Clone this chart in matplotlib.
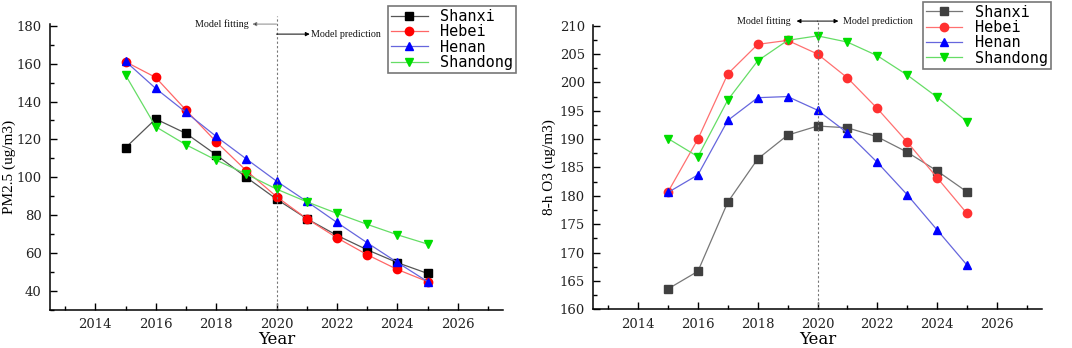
import matplotlib
matplotlib.use("Agg")
import matplotlib.pyplot as plt
from matplotlib.ticker import MultipleLocator

years = [2015, 2016, 2017, 2018, 2019, 2020, 2021, 2022, 2023, 2024, 2025]
provinces = ["Shanxi", "Hebei", "Henan", "Shandong"]

pm25_shanxi = [115.6, 130.8, 123.2, 111.9, 100.0, 88.5, 78.2, 69.4, 61.8, 55.0, 49.3]
pm25_hebei = [161.0, 152.7, 135.5, 118.8, 103.5, 89.8, 78.2, 68.1, 59.2, 51.4, 45.0]
pm25_henan = [161.2, 146.9, 134.3, 121.6, 109.7, 98.0, 87.3, 76.2, 65.5, 55.1, 45.0]
pm25_shandong = [154.0, 126.7, 117.2, 109.1, 101.7, 93.8, 87.1, 81.0, 75.2, 69.7, 64.8]

o3_shanxi = [163.6, 166.7, 178.9, 186.5, 190.7, 192.3, 192.0, 190.4, 187.7, 184.4, 180.7]
o3_hebei = [180.7, 190.0, 201.5, 206.7, 207.4, 205.0, 200.8, 195.4, 189.5, 183.2, 176.9]
o3_henan = [180.6, 183.7, 193.3, 197.3, 197.5, 195.1, 191.1, 185.9, 180.2, 174.0, 167.8]
o3_shandong = [190.1, 186.9, 196.9, 203.8, 207.4, 208.2, 207.1, 204.7, 201.3, 197.4, 193.1]

split_year = 2020

W, H = 1072, 348
fig = plt.figure(figsize=(W / 100, H / 100), dpi=100)

def px_axes(l, r, b, t):
    return fig.add_axes([l / W, 1 - b / H, (r - l) / W, (b - t) / H])

ax1 = px_axes(50, 503, 310, 23.8)
ax2 = px_axes(593.3, 1041.7, 309.3, 24.5)

markers = ["s", "o", "^", "v"]
mcolors_left = ["#000000", "#ff0000", "#0000ff", "#00dd00"]
lcolors_left = ["#555555", "#ff6666", "#6666dd", "#66dd66"]
mcolors_right = ["#404040", "#ff3030", "#0000ff", "#00dd00"]
lcolors_right = ["#777777", "#ff7070", "#6666dd", "#66dd66"]

def style_axes(ax, ylim, ymaj, ymin):
    ax.set_xlim(2012.5, 2027.5)
    ax.set_ylim(*ylim)
    ax.xaxis.set_major_locator(MultipleLocator(2))
    ax.xaxis.set_minor_locator(MultipleLocator(1))
    ax.yaxis.set_major_locator(MultipleLocator(ymaj))
    ax.yaxis.set_minor_locator(MultipleLocator(ymin))
    for s in ["top", "right"]:
        ax.spines[s].set_visible(False)
    for s in ["left", "bottom"]:
        ax.spines[s].set_linewidth(1.1)
    ax.tick_params(which="both", direction="in", width=1.0)
    ax.tick_params(which="major", length=5, labelsize=9.5, pad=6)
    ax.tick_params(which="minor", length=3)
    for lab in ax.get_xticklabels() + ax.get_yticklabels():
        lab.set_fontfamily("DejaVu Serif")
        lab.set_color("#222222")
    ax.set_xlabel("Year", fontsize=12, fontfamily="DejaVu Serif", labelpad=0)

def plot_series(ax, data, mcols, lcols):
    for name, vals, m, mc, lc in zip(provinces, data, markers, mcols, lcols):
        ax.plot(years, vals, color=lc, linewidth=0.9, marker=m, markersize=6,
                markerfacecolor=mc, markeredgecolor=mc, label=name, clip_on=False)

plot_series(ax1, [pm25_shanxi, pm25_hebei, pm25_henan, pm25_shandong], mcolors_left, lcolors_left)
plot_series(ax2, [o3_shanxi, o3_hebei, o3_henan, o3_shandong], mcolors_right, lcolors_right)

style_axes(ax1, (30, 181), 20, 10)
style_axes(ax2, (160, 210.2), 5, 2.5)
ax1.set_ylabel("PM2.5 (ug/m3)", fontsize=11, fontfamily="Liberation Serif")
ax2.set_ylabel("8-h O3 (ug/m3)", fontsize=11, fontfamily="Liberation Serif")
ax1.yaxis.set_label_coords(-0.074, 0.5)
ax2.yaxis.set_label_coords(-0.084, 0.5)

def legend(ax, anchor):
    lg = ax.legend(loc="upper right", bbox_to_anchor=anchor, bbox_transform=fig.transFigure,
                   prop={"family": "DejaVu Sans Mono", "size": 11}, fancybox=False,
                   frameon=True, edgecolor="#777777", framealpha=1, borderpad=0.2,
                   labelspacing=0.02, handlelength=2.4, handletextpad=0.8, borderaxespad=0)
    lg.get_frame().set_linewidth(1.2)

legend(ax1, (516 / W, 1 - 6 / H))
legend(ax2, (1050.7 / W, 1 - 1.7 / H))

ann_font = dict(fontsize=7.2, fontfamily="Liberation Serif", color="#111111")
arrow = dict(arrowstyle="-|>", color="black", lw=0.7, mutation_scale=6, shrinkA=0, shrinkB=0)

# left panel: divider and annotations
ax1.plot([split_year, split_year], [0, 1.027], transform=ax1.get_xaxis_transform(),
         color="#777777", lw=0.8, ls=(0, (2, 2)), clip_on=False)
ax1.annotate("", xy=(2019.2, 0.999), xytext=(split_year, 0.999),
             xycoords=("data", "axes fraction"), textcoords=("data", "axes fraction"),
             arrowprops=dict(arrowstyle="-|>", color="#888888", lw=0.7, mutation_scale=6,
                             shrinkA=0, shrinkB=0, fc="black"), annotation_clip=False)
ax1.text(2019.15, 0.999, "Model fitting ", transform=ax1.get_xaxis_transform(),
         ha="right", va="center", **ann_font)
ax1.annotate("", xy=(2021.1, 0.964), xytext=(split_year, 0.964),
             xycoords=("data", "axes fraction"), textcoords=("data", "axes fraction"),
             arrowprops=arrow, annotation_clip=False)
ax1.text(2021.15, 0.964, "Model prediction", transform=ax1.get_xaxis_transform(),
         ha="left", va="center", **ann_font)

# right panel
ax2.plot([split_year, split_year], [0, 1.01], transform=ax2.get_xaxis_transform(),
         color="#777777", lw=0.8, ls=(0, (2, 2)), clip_on=False)
for xe in (2019.3, 2020.7):
    ax2.annotate("", xy=(xe, 1.012), xytext=(split_year, 1.012),
                 xycoords=("data", "axes fraction"), textcoords=("data", "axes fraction"),
                 arrowprops=arrow, annotation_clip=False)
ax2.text(2019.2, 1.012, "Model fitting ", transform=ax2.get_xaxis_transform(),
         ha="right", va="center", **ann_font)
ax2.text(2020.85, 1.012, "Model prediction", transform=ax2.get_xaxis_transform(),
         ha="left", va="center", **ann_font)

fig.savefig("out.png", dpi=100)
